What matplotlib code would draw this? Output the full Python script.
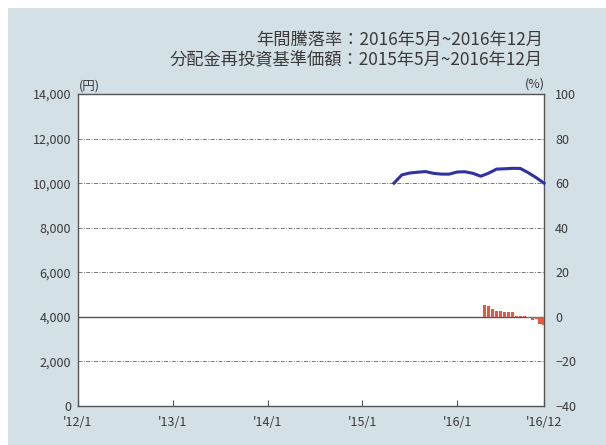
import matplotlib.pyplot as plt
from matplotlib.patches import Rectangle

plt.rcParams["font.family"] = ["Noto Sans CJK JP", "DejaVu Sans"]

# month index: 0 = 2012/1
tick_months = [0, 12, 24, 36, 48, 59]
tick_labels = ["'12/1", "'13/1", "'14/1", "'15/1", "'16/1", "'16/12"]

nav_months = list(range(40, 60))
nav_values = [10000, 10370, 10455, 10490, 10520, 10440, 10405, 10405, 10500, 10510,
              10440, 10310, 10450, 10630, 10645, 10665, 10660, 10470, 10250, 10000]

ret_months = [51.5, 52.0, 52.5, 53.0, 53.5, 54.0, 54.5, 55.0,
              55.5, 56.0, 56.5, 57.0, 57.5, 58.0, 58.5, 59.0]
ret_values = [5.5, 4.9, 3.5, 2.5, 2.5, 2.4, 2.4, 2.0,
              0.6, 0.4, 0.4, -0.5, -1.2, -1.0, -3.0, -3.6]

left_ticks = [0, 2000, 4000, 6000, 8000, 10000, 12000, 14000]
right_ticks = [-40, -20, 0, 20, 40, 60, 80, 100]

text_color = "#3a3a3a"
frame_color = "#555555"

fig = plt.figure(figsize=(6.06, 4.45), dpi=100)
fig.patch.set_facecolor("white")
fig.patches.append(Rectangle((8 / 606, 0), 1, 1 - 8 / 445, transform=fig.transFigure,
                             facecolor="#d3e0e5", edgecolor="none", zorder=-10))

ax = fig.add_axes([78 / 606, 1 - 406 / 445, (544 - 78) / 606, (406 - 94) / 445])
ax.set_facecolor("white")
ax.set_xlim(0, 59)
ax.set_ylim(0, 14000)

for y in [2000, 6000, 8000, 10000, 12000]:
    ax.axhline(y, color="#777777", lw=0.7, linestyle=(0, (4, 1.5, 1, 1.5)), zorder=1)
ax.axhline(4000, color=frame_color, lw=1.0, zorder=1)

ax.plot(nav_months, nav_values, color="#2e32a3", lw=2.2, zorder=3, clip_on=False)

ax.set_xticks(tick_months)
ax.set_xticklabels(tick_labels)
ax.set_yticks(left_ticks)
ax.set_yticklabels([f"{v:,}" for v in left_ticks])
ax.tick_params(axis="x", direction="in", length=4, color=frame_color, labelsize=9,
               labelcolor=text_color, pad=7)
ax.tick_params(axis="y", length=0, labelsize=9, labelcolor=text_color, pad=5)
for s in ax.spines.values():
    s.set_color(frame_color)
    s.set_linewidth(1.0)

ax2 = ax.twinx()
ax2.set_ylim(-40, 100)
ax2.set_yticks(right_ticks)
ax2.bar(ret_months, ret_values, width=0.4, color="#e8583c", zorder=2)
ax2.tick_params(axis="y", length=0, labelsize=9, labelcolor=text_color, pad=8)
for s in ax2.spines.values():
    s.set_visible(False)

fig.text(79 / 606, 1 - 90 / 445, "(円)", fontsize=9, color=text_color, ha="left", va="baseline")
fig.text(545 / 606, 1 - 88 / 445, "(%)", fontsize=9, color=text_color, ha="right", va="baseline")

fig.text(543 / 606, 1 - 40 / 445, "年間騰落率：2016年5月~2016年12月", fontsize=12.4,
         color=text_color, ha="right", va="center")
fig.text(543 / 606, 1 - 60 / 445, "分配金再投資基準価額：2015年5月~2016年12月", fontsize=12.4,
         color=text_color, ha="right", va="center")

fig.savefig("out.png", dpi=100)
